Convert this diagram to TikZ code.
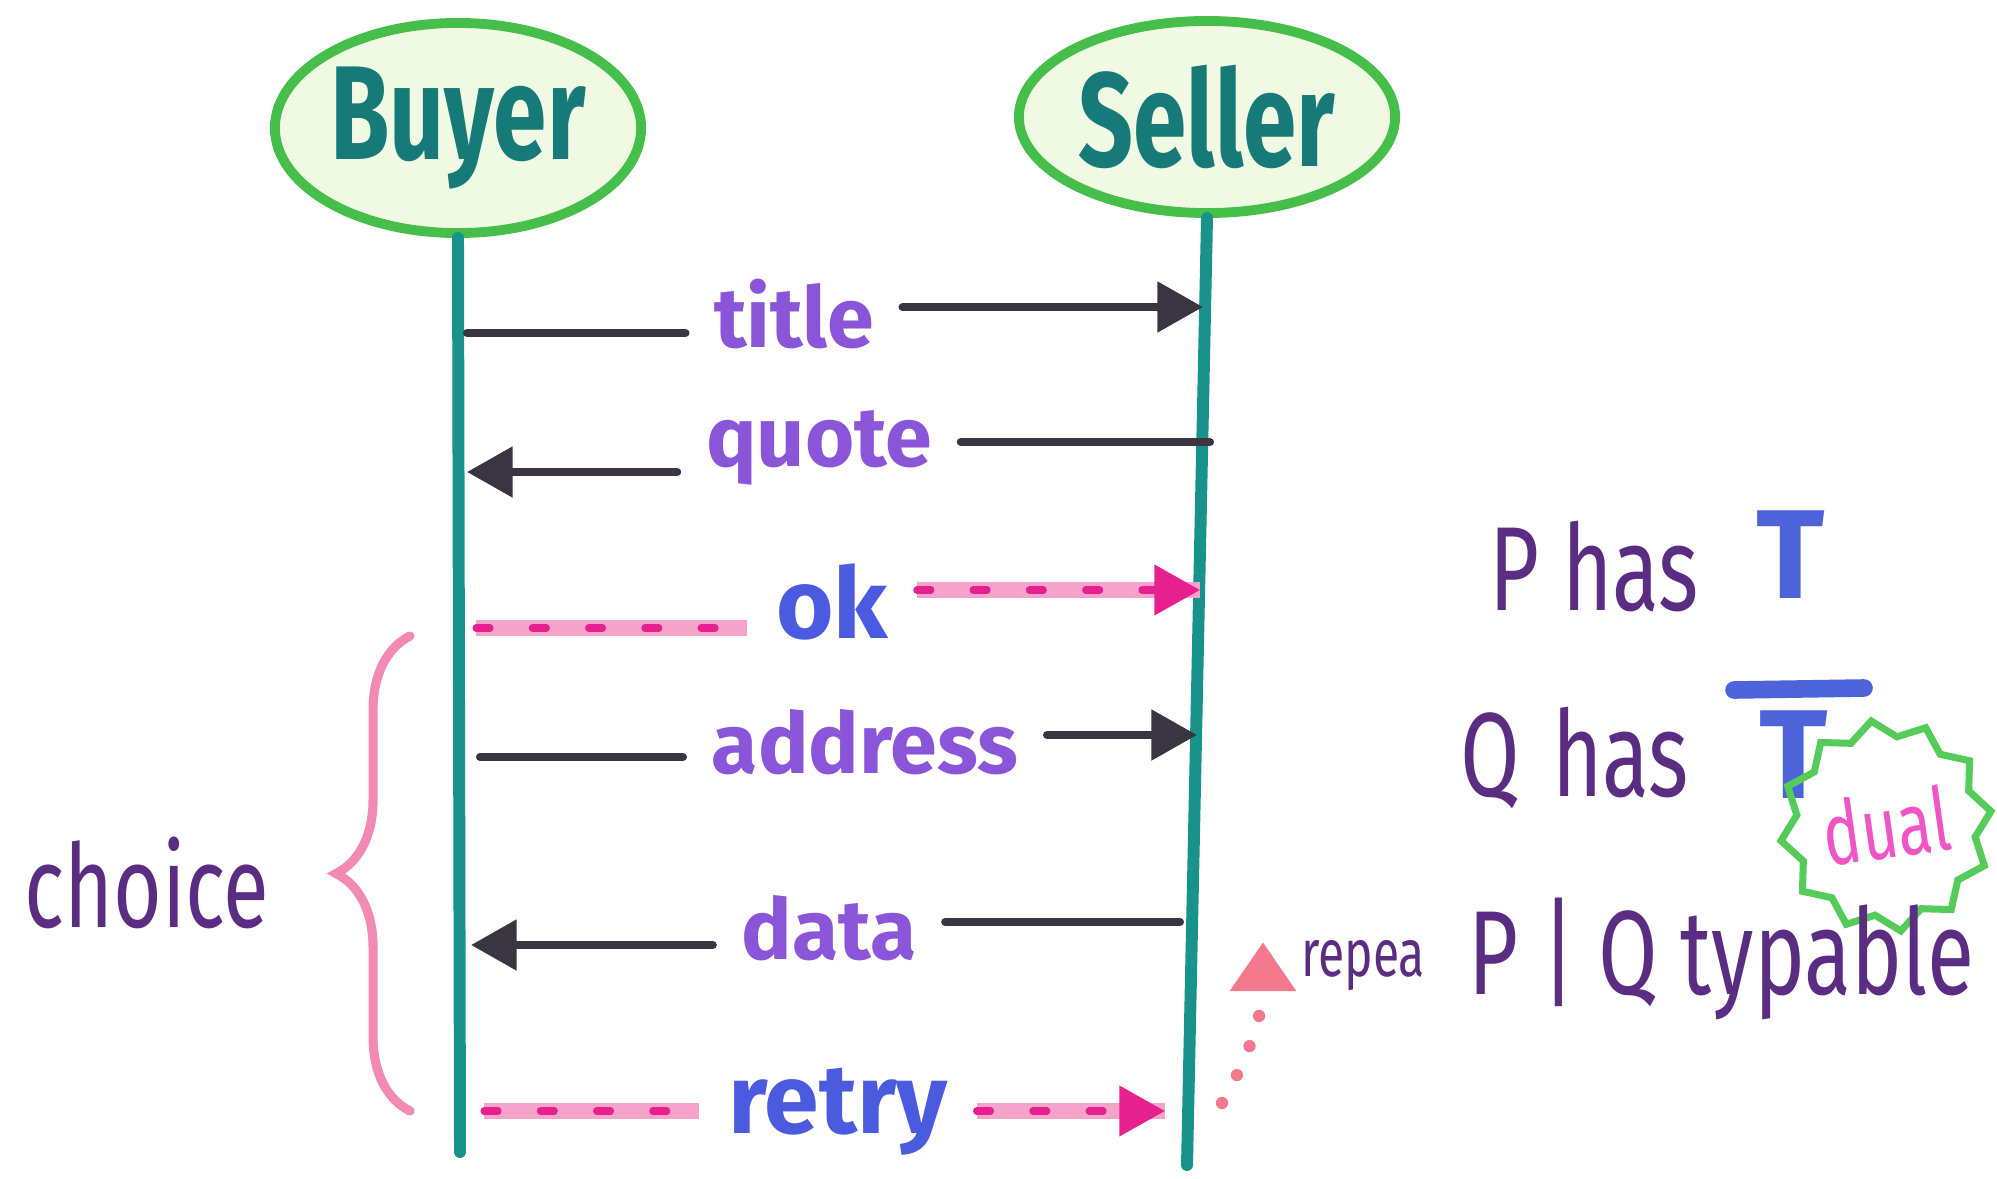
\documentclass[tikz,border=0pt]{standalone}
\usepackage{fontspec}
\setmainfont{Fira Sans}
\newfontfamily\handfont[FakeStretch=0.72]{Fira Sans}
\usepackage{tikz}
\usetikzlibrary{positioning,calc}
\usetikzlibrary{arrows.meta}
\usetikzlibrary{shapes.geometric}
\usetikzlibrary{decorations.pathreplacing}

\definecolor{lifeteal}{HTML}{1A928C}
\definecolor{nametext}{HTML}{157A78}
\definecolor{ellgreen}{HTML}{45BF4A}
\definecolor{ellfill}{HTML}{F0FAE3}
\definecolor{msgdark}{HTML}{3B3542}
\definecolor{lblviolet}{HTML}{8A55D8}
\definecolor{okblue}{HTML}{4A5BE0}
\definecolor{pinklight}{HTML}{F5A3C9}
\definecolor{pinkdash}{HTML}{E6208F}
\definecolor{bracepink}{HTML}{F28AB4}
\definecolor{inkpurple}{HTML}{5B2D82}
\definecolor{tblue}{HTML}{4D63DA}
\definecolor{dualpink}{HTML}{F055C5}
\definecolor{stargreen}{HTML}{55CC5A}
\definecolor{loopred}{HTML}{F27A8C}

\tikzset{
  actor/.style={ellipse, draw=ellgreen, line width=2.8pt, fill=ellfill, text=nametext, inner sep=0pt,
    font=\handfont\bfseries\fontsize{38}{42}\selectfont},
  lifeline/.style={draw=lifeteal, line width=3.4pt, line cap=round},
  msg/.style={draw=msgdark, line width=2.3pt, line cap=round},
  optmsg/.style={draw=pinkdash, line width=2pt, line cap=round, dash pattern=on 4pt off 12pt,
    preaction={draw=pinklight, line width=4.6pt, solid, -}},
  tip/.style={-{Triangle[length=13pt,width=14pt]}},
  lbl/.style={text=lblviolet, font=\bfseries\fontsize{24}{28}\selectfont, inner sep=8pt},
  lblb/.style={lbl, text=okblue, font=\bfseries\fontsize{28}{32}\selectfont},
  ink/.style={text=inkpurple, font=\handfont\fontsize{34}{38}\selectfont},
  bigT/.style={text=tblue, font=\bfseries\fontsize{36}{40}\selectfont},
}

\begin{document}
\begin{tikzpicture}[x=0.01cm, y=-0.01cm]
    \useasboundingbox (0,0) rectangle (1997,1179);

    % The two parties
    \node[actor, minimum width=3.66cm, minimum height=2.1cm] (buyer) at (458,128) {Buyer};
    \node[actor, minimum width=3.76cm, minimum height=1.92cm] (seller) at (1207,117) {Seller};
    \coordinate (buyerend) at (460,1152);
    \coordinate (sellerend) at (1187,1165);
    \draw[lifeline] (buyer.south) -- (buyerend);
    \draw[lifeline] (seller.south) -- (sellerend);

    % Ends of the messages on the lifelines
    \coordinate (titleB) at (467,333);   \coordinate (titleS) at (1203,307);
    \coordinate (quoteB) at (467,472);   \coordinate (quoteS) at (1210,442);
    \coordinate (okB) at (476,628);      \coordinate (okS) at (1200,590);
    \coordinate (addrB) at (480,757);    \coordinate (addrS) at (1197,735);
    \coordinate (dataB) at (471,945);    \coordinate (dataS) at (1180,922);
    \coordinate (retryB) at (484,1111);  \coordinate (retryS) at (1165,1111);

    % Message labels
    \node[lbl] (titlelbl) at (794,314) {title};
    \node[lbl] (quotelbl) at (819,448) {quote};
    \node[lblb] (oklbl) at (832,602) {ok};
    \node[lbl] (addrlbl) at (865,742) {address};
    \node[lbl] (datalbl) at (829,928) {data};
    \node[lblb] (retrylbl) at (838,1112) {retry};

    % Messages
    \draw[msg] (titleB) -- (titleB -| titlelbl.west);
    \draw[msg, tip] (titlelbl.east |- titleS) -- (titleS);
    \draw[msg] (quoteS) -- (quoteS -| quotelbl.east);
    \draw[msg, tip] (quotelbl.west |- quoteB) -- (quoteB);
    \draw[optmsg] (okB) -- (okB -| oklbl.west);
    \draw[optmsg, tip] (oklbl.east |- okS) -- (okS);
    \draw[msg] (addrB) -- (addrB -| addrlbl.west);
    \draw[msg, tip] (addrlbl.east |- addrS) -- (addrS);
    \draw[msg] (dataS) -- (dataS -| datalbl.east);
    \draw[msg, tip] (datalbl.west |- dataB) -- (dataB);
    \draw[optmsg] (retryB) -- (retryB -| retrylbl.west);
    \draw[optmsg, tip] (retrylbl.east |- retryS) -- (retryS);

    % Brace for the choice
    \coordinate (bracebot) at (410,1111);
    \coordinate (bracetop) at (410,636);
    \draw[bracepink, line width=2.6pt, line cap=round, decorate,
          decoration={brace,amplitude=21pt}] (bracebot) -- (bracetop);
    \node[text=inkpurple, font=\handfont\fontsize{33}{36}\selectfont] (choicetxt) at (147,883) {choice};

    % Typing notes
    \node[ink, anchor=base west] (phas) at (1477,610) {P has};
    \node[bigT, anchor=base] (tp) at (1791,598) {T};
    \node[ink, anchor=base west] (qhas) at (1448,796) {Q\hspace{0.08em} has};
    \node[bigT, anchor=base] (tq) at (1794,798) {T};
    \draw[tblue, line width=5pt, line cap=round] ($(tq.base)+(-60,-108)$) -- ($(tq.base)+(70,-110)$);
    \node[star, star points=12, star point ratio=1.18, minimum size=1.55cm, inner sep=0pt,
          draw=stargreen, line width=2pt, text=dualpink,
          font=\handfont\fontsize{25}{27}\selectfont, rotate=8] (dualstar) at (1886,826) {dual};
    \node[ink, anchor=base west] (pqtype) at (1456,994) {P | Q typable};

    % Repeat marker
    \node[text=inkpurple, font=\handfont\fontsize{19}{21}\selectfont] (repeatxt) at (1363,966) {repea};
    \coordinate (loopfoot) at (1222,1103);
    \coordinate (looptip) at (1263,942);
    \draw[loopred, line width=3.5pt, line cap=round, dash pattern=on 0pt off 9pt,
          -{Triangle[length=14pt,width=18pt]}] (loopfoot) to[out=60,in=-90] (looptip);

\end{tikzpicture}
\end{document}
